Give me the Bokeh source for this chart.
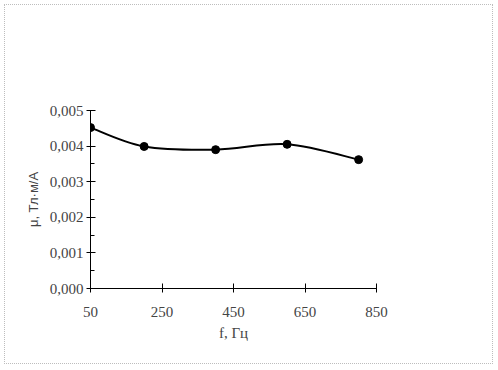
from bokeh.plotting import figure
from bokeh.embed import file_html
from bokeh.resources import INLINE
from bokeh.models import FixedTicker, CustomJSTickFormatter, Range1d

# data
freq = [50, 200, 400, 600, 800]
mu = [0.00452, 0.00399, 0.00390, 0.00405, 0.00362]
x_ticks = [50, 250, 450, 650, 850]
y_ticks = [0.0, 0.001, 0.002, 0.003, 0.004, 0.005]
y_minor = [0.0005, 0.0015, 0.0025, 0.0035, 0.0045]
x_label = "f, Гц"
y_label = "μ, Тл·м/А"

W, H = 487, 358
p = figure(width=W, height=H, output_backend="svg", toolbar_location=None,
           x_range=Range1d(50, 850), y_range=Range1d(0, 0.005),
           min_border_left=85, min_border_right=116, min_border_top=105, min_border_bottom=75)
p.styles = {"margin": "5px", "outline": "1px dotted #bdbdbd", "outline-offset": "0px"}
p.outline_line_color = None
p.grid.visible = False
p.background_fill_color = "white"
p.border_fill_color = "white"

# smoothed line (Catmull-Rom style bezier like Excel smoothing)
n = len(freq)
x0s, y0s, x1s, y1s, cx0, cy0, cx1, cy1 = [], [], [], [], [], [], [], []
for i in range(n - 1):
    pxm = freq[i - 1] if i > 0 else freq[i]
    pym = mu[i - 1] if i > 0 else mu[i]
    pxp = freq[i + 2] if i + 2 < n else freq[i + 1]
    pyp = mu[i + 2] if i + 2 < n else mu[i + 1]
    x0s.append(freq[i]); y0s.append(mu[i])
    x1s.append(freq[i + 1]); y1s.append(mu[i + 1])
    cx0.append(freq[i] + (freq[i + 1] - pxm) / 6)
    cy0.append(mu[i] + (mu[i + 1] - pym) / 6)
    cx1.append(freq[i + 1] - (pxp - freq[i]) / 6)
    cy1.append(mu[i + 1] - (pyp - mu[i]) / 6)
p.bezier(x0=x0s, y0=y0s, x1=x1s, y1=y1s, cx0=cx0, cy0=cy0, cx1=cx1, cy1=cy1,
         line_color="black", line_width=2)
p.scatter(freq, mu, size=8, color="black")

font = "Liberation Serif"
xa = p.xaxis[0]
xa.ticker = FixedTicker(ticks=x_ticks)
xa.axis_label = x_label
xa.axis_line_color = "black"
xa.major_tick_in = 5
xa.major_tick_out = 4
xa.minor_tick_line_color = None
xa.major_label_text_font = font
xa.major_label_text_font_size = "15px"
xa.major_label_standoff = 14
xa.axis_label_text_font = font
xa.axis_label_text_font_size = "15px"
xa.axis_label_text_font_style = "normal"
xa.axis_label_standoff = 5

ya = p.yaxis[0]
ya.ticker = FixedTicker(ticks=y_ticks, minor_ticks=y_minor)
ya.formatter = CustomJSTickFormatter(code="return tick.toFixed(3).replace('.', ',');")
ya.axis_label = y_label
ya.axis_line_color = "black"
ya.major_tick_in = 5
ya.major_tick_out = 4
ya.minor_tick_in = 4
ya.minor_tick_out = 0
ya.major_label_text_font = font
ya.major_label_text_font_size = "15px"
ya.major_label_standoff = 3
ya.axis_label_text_font = "Liberation Sans"
ya.axis_label_text_font_size = "13px"
ya.axis_label_text_font_style = "normal"
ya.axis_label_standoff = 6

open("out.html", "w").write(file_html(p, INLINE))
